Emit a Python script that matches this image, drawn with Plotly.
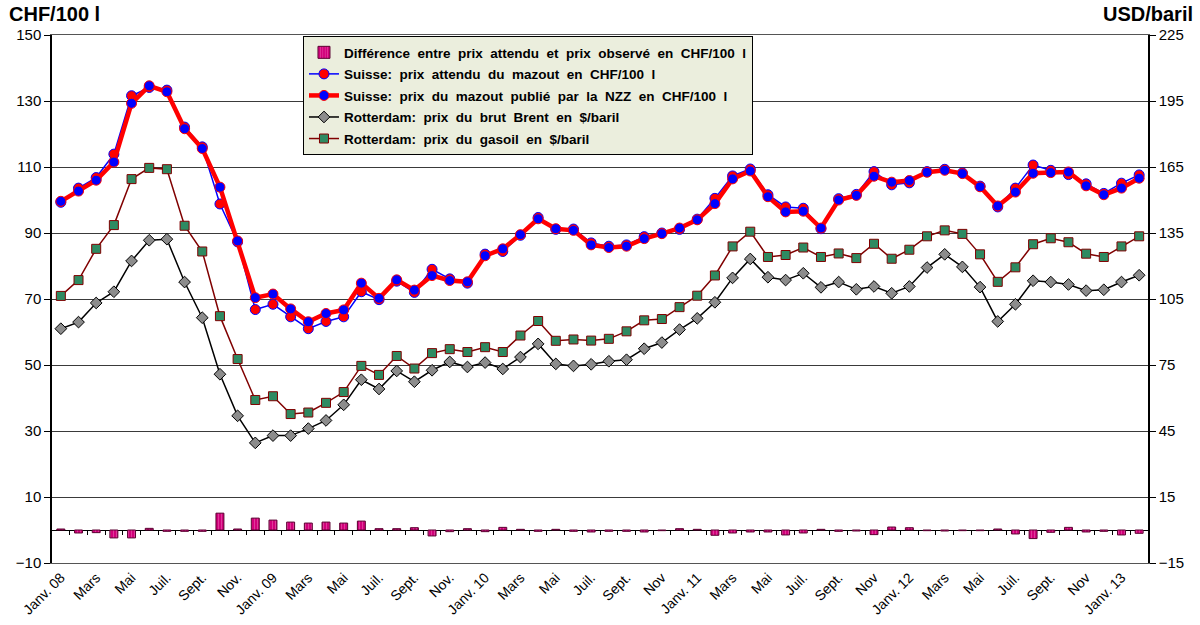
import numpy as np
import pandas as pd
import plotly.graph_objects as go

# ---------------- data ----------------
months = pd.date_range("2008-01-01", periods=62, freq="MS").strftime("%Y-%m").tolist()

tick_labels = ["Janv. 08", "Mars", "Mai", "Juil.", "Sept.", "Nov.",
               "Janv. 09", "Mars", "Mai", "Juil.", "Sept.", "Nov.",
               "Janv. 10", "Mars", "Mai", "Juil.", "Sept.", "Nov",
               "Janv. 11", "Mars", "Mai", "Juil.", "Sept.", "Nov",
               "Janv. 12", "Mars", "Mai", "Juil.", "Sept.", "Nov",
               "Janv. 13"]

# Différence entre prix attendu et prix observé (CHF/100 l)
difference = [0.3, -0.9, -0.8, -2.4, -2.4, 0.5, -0.4, -0.4, -0.4, 5.1,
              0.3, 3.6, 3.0, 2.4, 2.1, 2.4, 2.1, 2.7, 0.4, 0.4,
              0.7, -1.8, -0.5, 0.4, -0.5, 0.8, 0.2, -0.4, 0.2, -0.4,
              -0.6, -0.4, -0.4, -0.6, -0.2, 0.4, 0.2, -1.6, -0.9, -0.6,
              -0.6, -1.5, -0.9, 0.2, -0.4, -0.3, -1.4, 0.9, 0.7, -0.2,
              -0.3, -0.2, -0.2, 0.3, -1.2, -2.6, -0.7, 0.8, -0.6, -0.4,
              -1.5, -1.0]

# Suisse: prix attendu du mazout (CHF/100 l)
prix_attendu = [99.3, 103.6, 106.8, 113.9, 131.6, 134.1, 133.3, 122.1, 116.1, 98.8,
                87.3, 66.8, 68.4, 64.6, 61.0, 63.2, 64.6, 72.2, 69.8, 75.4,
                72.0, 79.0, 76.1, 74.8, 83.6, 84.4, 89.3, 94.7, 91.1, 91.2,
                87.0, 86.0, 86.4, 88.9, 90.0, 91.1, 94.2, 100.5, 107.3, 109.4,
                101.6, 97.9, 97.5, 91.3, 100.4, 101.7, 108.6, 104.6, 105.2, 108.6,
                109.3, 108.2, 104.2, 97.9, 103.6, 110.6, 109.0, 107.7, 104.9, 102.0,
                105.1, 107.6]

# Suisse: prix du mazout publié par la NZZ (CHF/100 l)
prix_nzz = [99.6, 102.7, 106.0, 111.5, 129.3, 134.6, 132.8, 121.6, 115.6, 103.9,
            87.6, 70.4, 71.5, 67.0, 63.1, 65.6, 66.7, 74.8, 70.2, 75.8,
            72.7, 77.1, 75.6, 75.2, 83.1, 85.2, 89.5, 94.3, 91.3, 90.8,
            86.4, 85.6, 86.0, 88.3, 89.8, 91.5, 94.0, 98.9, 106.4, 108.8,
            101.0, 96.4, 96.6, 91.5, 100.0, 101.4, 107.2, 105.4, 105.9, 108.4,
            109.0, 108.0, 104.0, 98.2, 102.4, 108.1, 108.3, 108.5, 104.3, 101.6,
            103.6, 106.6]

# Rotterdam: prix du brut Brent ($/baril)
brent = [91.5, 94.5, 103.2, 108.3, 122.3, 131.7, 132.2, 112.7, 96.5, 70.8,
         51.9, 39.6, 42.9, 42.9, 46.1, 49.8, 56.9, 68.3, 64.1, 72.3,
         67.4, 72.6, 76.4, 74.1, 76.1, 73.2, 78.6, 84.6, 75.5, 74.6,
         75.3, 76.7, 77.4, 82.4, 85.2, 91.1, 96.2, 103.5, 114.6, 123.2,
         114.9, 113.6, 116.7, 110.3, 112.7, 109.4, 110.7, 107.6, 110.7, 119.3,
         125.3, 119.6, 110.4, 94.8, 102.6, 113.3, 112.7, 111.6, 108.8, 109.2,
         112.7, 115.8]

# Rotterdam: prix du gasoil ($/baril)
gasoil = [106.4, 113.6, 127.8, 138.6, 159.5, 164.6, 164.0, 138.3, 126.6, 97.2,
          77.7, 59.1, 60.8, 52.7, 53.4, 57.8, 62.7, 74.6, 70.5, 79.1,
          73.4, 80.4, 82.2, 80.9, 83.1, 80.9, 88.4, 95.0, 86.0, 86.6,
          86.1, 86.9, 90.3, 95.3, 95.9, 101.3, 106.5, 115.7, 128.9, 135.6,
          124.1, 125.0, 128.4, 124.1, 125.7, 123.6, 130.1, 123.3, 127.4, 133.5,
          136.2, 134.6, 125.3, 112.8, 119.4, 129.9, 132.6, 130.8, 125.6, 124.1,
          128.9, 133.5]

left_ticks = [-10, 10, 30, 50, 70, 90, 110, 130, 150]
right_ticks = [-15, 15, 45, 75, 105, 135, 165, 195, 225]

# ---------------- figure ----------------
FONT = "Arial, 'Liberation Sans', sans-serif"
x = np.arange(len(months))

fig = go.Figure()

fig.add_trace(go.Bar(
    x=x, y=difference, width=0.45,
    name="Différence  entre  prix  attendu  et  prix  observé  en  CHF/100  l",
    legendgroup="g1",
    marker=dict(color="#D1007A", line=dict(color="#5A0030", width=1),
                pattern=dict(shape="|", fgcolor="#F070B8", size=3, solidity=0.35)),
    yaxis="y", xaxis="x",
))

fig.add_trace(go.Scatter(
    x=x, y=prix_attendu, mode="lines+markers",
    name="Suisse:  prix  attendu  du  mazout  en  CHF/100  l",
    legendgroup="g2",
    line=dict(color="#0000FF", width=1.5),
    marker=dict(symbol="circle", size=10, color="#FF0000",
                line=dict(color="#0000FF", width=1)),
    yaxis="y", xaxis="x",
))

fig.add_trace(go.Scatter(
    x=x, y=prix_nzz, mode="lines+markers",
    name="Suisse:  prix  du  mazout  publié  par  la  NZZ  en  CHF/100  l",
    legendgroup="g3",
    line=dict(color="#FF0000", width=4.5),
    marker=dict(symbol="circle", size=10, color="#0000FF",
                line=dict(color="#FF0000", width=1)),
    yaxis="y", xaxis="x",
))

fig.add_trace(go.Scatter(
    x=x, y=brent, mode="lines+markers",
    name="Rotterdam:  prix  du  brut  Brent  en  $/baril",
    legendgroup="g4",
    line=dict(color="#000000", width=1.5),
    marker=dict(symbol="diamond", size=9, color="#8C8C8C",
                line=dict(color="#000000", width=1)),
    yaxis="y2", xaxis="x",
))

fig.add_trace(go.Scatter(
    x=x, y=gasoil, mode="lines+markers",
    name="Rotterdam:  prix  du  gasoil  en  $/baril",
    legendgroup="g5",
    line=dict(color="#800000", width=1.5),
    marker=dict(symbol="square", size=9, color="#2E8B62",
                line=dict(color="#800000", width=1)),
    yaxis="y2", xaxis="x",
))

# helper trace so the zero-line category axis (ticks between months) is drawn
fig.add_trace(go.Scatter(x=[x[0]], y=[None], xaxis="x2", yaxis="y",
                         showlegend=False, hoverinfo="skip"))

xrange = [-0.5, len(months) - 0.5]

fig.update_layout(
    width=1200, height=625,
    margin=dict(l=52, r=52, t=35, b=62, autoexpand=False),
    paper_bgcolor="white", plot_bgcolor="white",
    font=dict(family=FONT, color="black", size=14),
    showlegend=True,
    bargap=0.55,
    xaxis=dict(
        range=xrange, tickmode="array",
        tickvals=x[::2], ticktext=tick_labels,
        tickangle=-45, ticks="", showgrid=False, zeroline=False,
        showline=True, linecolor="#555555", linewidth=1, mirror=True,
        tickfont=dict(size=14, family=FONT, color="black"),
        automargin=False,
    ),
    xaxis2=dict(
        overlaying="x", anchor="free", position=10 / 160, side="bottom",
        range=xrange, tickmode="array", tickvals=x[1:] - 0.5,
        ticks="outside", ticklen=4, tickcolor="black", tickwidth=1,
        showticklabels=False, showgrid=False, zeroline=False, showline=False,
        automargin=False,
    ),
    yaxis=dict(
        range=[-10, 150], tickmode="array", tickvals=left_ticks,
        showgrid=True, gridcolor="#3a3a3a", gridwidth=1,
        zeroline=True, zerolinecolor="#000000", zerolinewidth=1,
        showline=True, linecolor="black", linewidth=1.5,
        ticks="outside", ticklen=6, tickcolor="black",
        tickfont=dict(size=15, family=FONT, color="black"),
        automargin=False,
    ),
    yaxis2=dict(
        range=[-15, 225], tickmode="array", tickvals=right_ticks,
        overlaying="y", side="right", anchor="x",
        showgrid=False, zeroline=False,
        showline=True, linecolor="black", linewidth=1.5,
        ticks="outside", ticklen=6, tickcolor="black",
        tickfont=dict(size=15, family=FONT, color="black"),
        automargin=False,
    ),
    legend=dict(
        x=0.229, y=0.998, xanchor="left", yanchor="top",
        bgcolor="#EBEEDD", bordercolor="black", borderwidth=1,
        font=dict(size=13.5, family=FONT, color="black", weight="bold"),
        traceorder="grouped", tracegroupgap=1,
    ),
    annotations=[
        dict(text="<b>CHF/100 l</b>", xref="paper", yref="paper",
             x=-0.041, y=1.04, xanchor="left", yanchor="middle",
             showarrow=False, font=dict(size=20, family=FONT, color="black")),
        dict(text="<b>USD/baril</b>", xref="paper", yref="paper",
             x=1.043, y=1.04, xanchor="right", yanchor="middle",
             showarrow=False, font=dict(size=20, family=FONT, color="black")),
    ],
)

fig.write_html("out.html")
